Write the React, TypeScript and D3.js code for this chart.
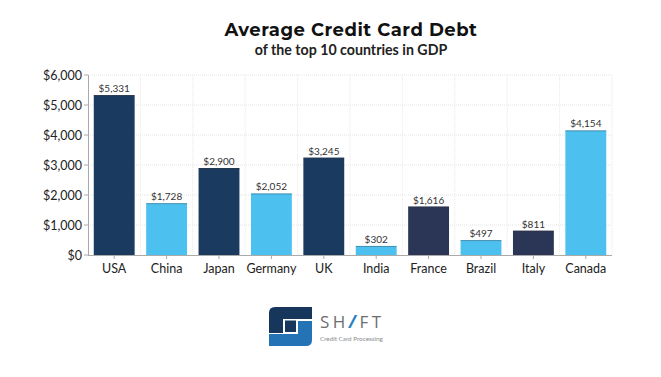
import React from "react";
import * as d3 from "d3";

const categories = ["USA", "China", "Japan", "Germany", "UK", "India", "France", "Brazil", "Italy", "Canada"];
const values = [5331, 1728, 2900, 2052, 3245, 302, 1616, 497, 811, 4154];
const barColors = ["#1b3a5f", "#4cc1f0", "#1b3a5f", "#4cc1f0", "#1b3a5f", "#4cc1f0", "#2b3656", "#4cc1f0", "#2b3656", "#4cc1f0"];
const yTicks = [0, 1000, 2000, 3000, 4000, 5000, 6000];

const W = 661, H = 377;
const left = 88, right = 612, top = 75, bottom = 255;

export default function App() {
  const x = d3.scaleBand<string>().domain(categories).range([left, right]).paddingInner(0.22).paddingOuter(0.11);
  const xb = d3.scaleBand<string>().domain(categories).range([left, right]);
  const y = d3.scaleLinear().domain([0, 6000]).range([bottom, top]);
  const fmt = (v: number) => "$" + d3.format(",")(v);
  const font = "Lato, 'Open Sans', sans-serif";
  return (
    <div style={{ position: "absolute", left: 0, top: 0 }}>
      <svg width={W} height={H} style={{ display: "block", background: "#fff" }}>
        <text x={351} y={36} textAnchor="middle" fontFamily="Montserrat, Lato, sans-serif" fontWeight={700} fontSize={18} letterSpacing={0.5} fill="#111">Average Credit Card Debt</text>
        <text x={351} y={55} textAnchor="middle" fontFamily={font} fontWeight={700} fontSize={14.2} fill="#222">of the top 10 countries in GDP</text>
        {/* grid */}
        {yTicks.filter(t => t > 0).map(t => (
          <line key={"h" + t} x1={left} x2={right} y1={y(t)} y2={y(t)} stroke="#e4e4e4" strokeWidth={1} strokeDasharray="1,1" />
        ))}
        {categories.map(c => (
          <line key={"v" + c} x1={(xb(c) as number) + xb.bandwidth()} x2={(xb(c) as number) + xb.bandwidth()} y1={top} y2={bottom} stroke="#e8e8e8" strokeWidth={1} strokeDasharray="1,1" />
        ))}
        {/* bars */}
        {categories.map((c, i) => (
          <g key={c}>
            <rect x={x(c)} y={y(values[i])} width={x.bandwidth()} height={bottom - y(values[i])} fill={barColors[i]} />
            <line x1={x(c)} x2={(x(c) as number) + x.bandwidth()} y1={y(values[i]) + 0.5} y2={y(values[i]) + 0.5} stroke="#333" strokeOpacity={0.35} />
            <text x={(x(c) as number) + x.bandwidth() / 2} y={y(values[i]) - 3} textAnchor="middle" fontFamily={font} fontSize={10} fill="#333">{fmt(values[i])}</text>
          </g>
        ))}
        {/* axes */}
        <line x1={left + 0.5} x2={left + 0.5} y1={top} y2={bottom} stroke="#aaa" />
        <line x1={left} x2={right} y1={bottom + 0.5} y2={bottom + 0.5} stroke="#aaa" />
        {yTicks.map(t => (
          <g key={"yt" + t}>
            <line x1={left - 4} x2={left} y1={y(t)} y2={y(t)} stroke="#aaa" />
            <text x={left - 6} y={y(t) + 4.5} textAnchor="end" fontFamily={font} fontSize={12.5} fill="#222">{fmt(t)}</text>
          </g>
        ))}
        {categories.map(c => {
          const cx = (xb(c) as number) + xb.bandwidth() / 2;
          return (
            <g key={"xt" + c}>
              <line x1={cx} x2={cx} y1={bottom} y2={bottom + 4} stroke="#aaa" />
              <text x={cx} y={bottom + 18} textAnchor="middle" fontFamily={font} fontSize={12.5} fill="#222">{c}</text>
            </g>
          );
        })}
        {/* logo */}
        <g>
          <path d="M275,307 H312 V319 H283 V333 H269 V313 Q269,307 275,307 Z" fill="#16365c" />
          <path d="M298,321 H312 V340 Q312,346 306,346 H269 V334 H298 Z" fill="#2473b4" />
          <rect x={285} y={320.5} width={11} height={11.5} fill="#16365c" />
          <text x={320} y={328} fontFamily="'Open Sans', Lato, sans-serif" fontSize={17} letterSpacing={3.5} fill="#6d6e71">SH<tspan fill="#2a7fc1" fontStyle="italic" fontWeight={700}>/</tspan>FT</text>
          <text x={320} y={341} fontFamily={font} fontSize={6.3} fill="#8a8b8d">Credit Card Processing</text>
        </g>
      </svg>
    </div>
  );
}
